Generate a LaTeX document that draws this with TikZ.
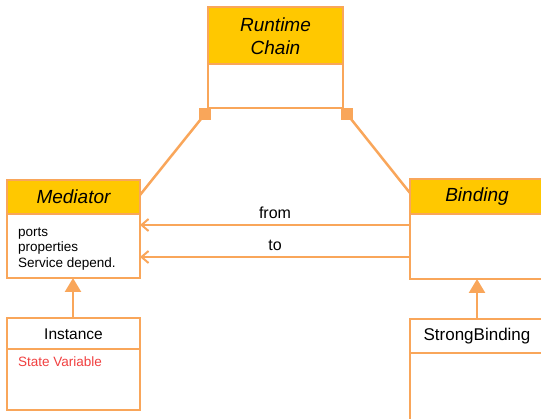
\documentclass[tikz,border=0pt]{standalone}
\usepackage{fontspec}
\setmainfont{Liberation Sans}
\usetikzlibrary{arrows.meta}
\definecolor{oline}{HTML}{F9A65A}
\definecolor{head}{HTML}{FFC800}
\definecolor{redtxt}{HTML}{F04040}
\begin{document}
\begin{tikzpicture}[x=1pt,y=-1pt,
  box/.style={draw=oline,line width=2.5pt},
  hdr/.style={box,fill=head},
  conn/.style={draw=oline,line width=2.5pt},
  lbl/.style={font=\fontsize{16}{18}\selectfont,text=black},
  ttl/.style={font=\fontsize{19}{23}\selectfont\itshape,text=black,align=center},
  att/.style={font=\fontsize{13.5}{15.5}\selectfont,text=black,align=left,anchor=north west,inner sep=0pt},
]
\useasboundingbox (0,0) rectangle (541,419);
% Runtime Chain
\filldraw[hdr] (208,7) rectangle (343,64);
\draw[box] (208,64) rectangle (343,108);
\node[ttl] (rc) at (275.5,36.5) {Runtime\\Chain};
\coordinate (rcL) at (205,114);
\coordinate (rcR) at (347,114);
% Mediator
\filldraw[hdr] (7,180) rectangle (140,214);
\draw[box] (7,214) rectangle (140,278);
\node[ttl] (med) at (73.5,197) {Mediator};
\node[att] (medatt) at (18,227.5) {ports\\properties\\Service depend.};
\coordinate (medTR) at (140,195);
\coordinate (medA1) at (140,225);
\coordinate (medA2) at (140,257);
\coordinate (medB) at (73,278);
% Binding
\filldraw[hdr] (410,179) rectangle (545,214);
\draw[box] (410,214) rectangle (545,279);
\node[ttl] (bin) at (477,197) {Binding};
\coordinate (binTL) at (410,193);
\coordinate (binA1) at (410,225);
\coordinate (binA2) at (410,257);
\coordinate (binB) at (477,279);
% Instance
\draw[box] (7,318) rectangle (140,349);
\draw[box] (7,349) rectangle (140,410);
\node[font=\fontsize{15.5}{18}\selectfont] (inst) at (73.5,334) {Instance};
\node[att,text=redtxt] (sv) at (18,357) {State Variable};
\coordinate (instT) at (73,318);
% StrongBinding
\draw[box] (410,319) rectangle (545,353);
\draw[box] (410,353) rectangle (545,425);
\node[font=\fontsize{17}{19}\selectfont] (sb) at (477,336) {StrongBinding};
\coordinate (sbT) at (477,319);
% aggregation squares
\fill[oline] (rcL) ++(-6,-6) rectangle ++(12,12);
\fill[oline] (rcR) ++(-6,-6) rectangle ++(12,12);
\draw[conn] (rcL) -- (medTR);
\draw[conn] (rcR) -- (binTL);
% associations
\draw[conn,-{Straight Barb[length=7pt,width=12pt,line width=2pt]}] (binA1) -- (medA1) node[midway,above=2pt,lbl] (from) {from};
\draw[conn,-{Straight Barb[length=7pt,width=12pt,line width=2pt]}] (binA2) -- (medA2) node[midway,above=2pt,lbl] (to) {to};
% inheritance
\draw[conn,-{Triangle[length=14pt,width=16pt,fill=oline]}] (instT) -- (medB);
\draw[conn,-{Triangle[length=14pt,width=16pt,fill=oline]}] (sbT) -- (binB);
\end{tikzpicture}
\end{document}
